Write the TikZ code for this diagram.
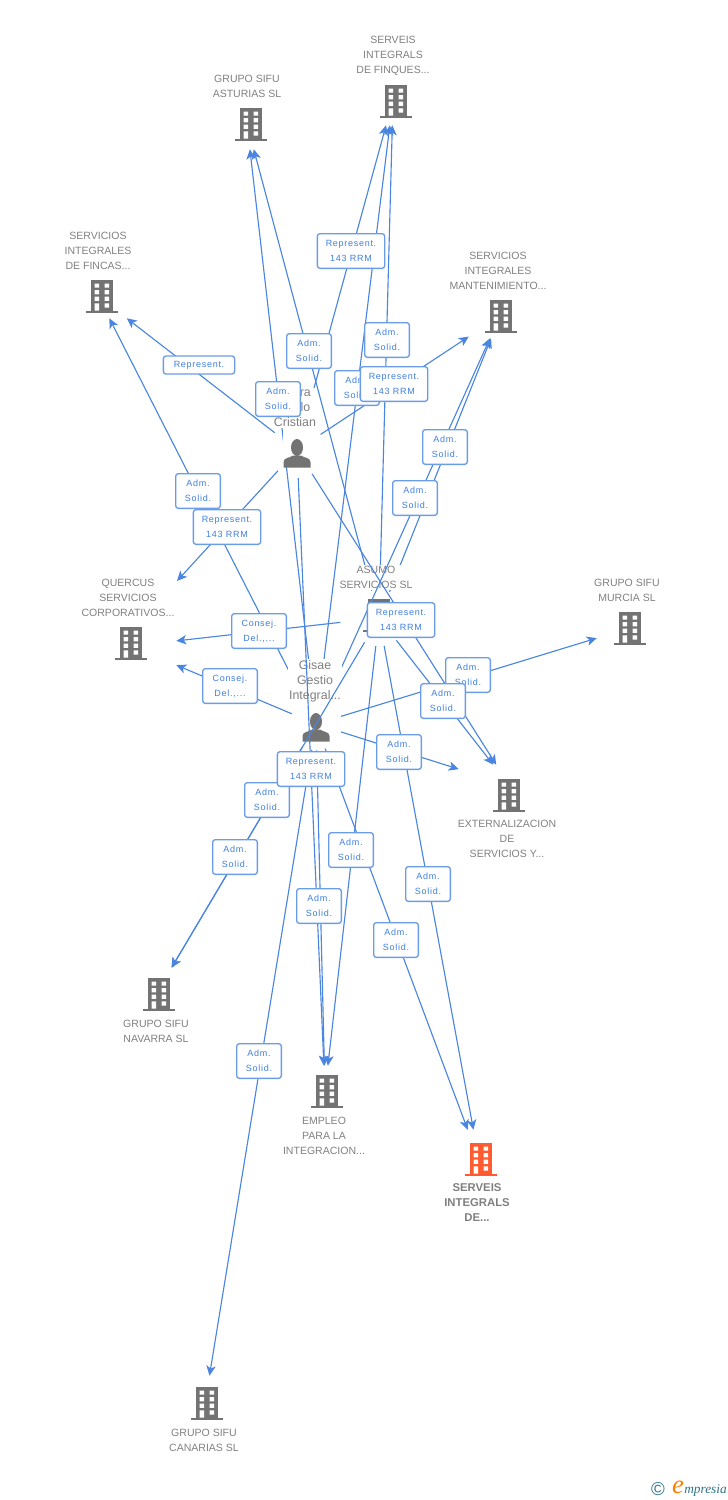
\documentclass[tikz,border=0pt]{standalone}
\usepackage{fontspec}
\usetikzlibrary{arrows.meta}
\setmainfont{Liberation Sans}
\newfontfamily\cajafont[LetterSpace=8]{Liberation Sans}
\newfontfamily\logofont{Liberation Serif}
\definecolor{enlace}{HTML}{4A86E0}
\definecolor{borde}{HTML}{6A9CE8}
\definecolor{rotulo}{HTML}{3F7FE0}
\definecolor{gris}{HTML}{737373}
\definecolor{texto}{HTML}{808080}
\definecolor{naranja}{HTML}{FF5A30}
\definecolor{verdoso}{HTML}{2F7488}
\tikzset{
    hub/.style 2 args={minimum width=#1*0.75pt,minimum height=#2*0.75pt,inner sep=0pt},
    hubper/.style={circle,minimum size=#1*1.5pt,inner sep=0pt},
    enlace/.style={draw=enlace,line width=0.85pt,-{Stealth[length=7.5pt,width=7pt,inset=2pt]}},
    caja/.style={draw=borde,fill=white,line width=1pt,rounded corners=2pt,align=center,inner sep=0pt,
        text=rotulo,font=\cajafont\fontsize{6.75pt}{11.25pt}\selectfont},
    cajaadm/.style={caja,minimum width=33.5pt,minimum height=26pt},
    cajarep/.style={caja,minimum width=50.5pt,minimum height=26pt},
    cajacons/.style={caja,minimum width=41pt,minimum height=26pt},
    cajauna/.style={caja,minimum width=53.5pt,minimum height=13.5pt},
    texto/.style={inner sep=0pt,align=center,text=texto,font=\fontsize{7.9pt}{11.25pt}\selectfont},
    textoper/.style={inner sep=1pt,align=center,fill=white,text=texto,font=\fontsize{9.3pt}{11.25pt}\selectfont},
    pics/edificio/.style={code={
        \fill[#1] (-11,-16.5) rectangle (11,16.5);
        \fill[#1] (-16,14.5) rectangle (16,16.5);
        \fill[white] (-7.5,-12.5) rectangle (-2.8,-8.3) (2.5,-12.5) rectangle (7.2,-8.3);
        \fill[white] (-7.5,-5.8) rectangle (-2.8,-1.6) (2.5,-5.8) rectangle (7.2,-1.6);
        \fill[white] (-7.5,0.6) rectangle (-2.8,4.8) (2.5,0.6) rectangle (7.2,4.8);
        \fill[white] (-7.5,7.3) rectangle (-2.8,14.5) (2.5,7.3) rectangle (7.2,11.5);
    }},
    pics/edificio/.default=gris,
    persona/.pic={
        \fill[white] (-14,-28) rectangle (14,8);
        \fill[gris] (0,-6.5) ellipse (6 and 8.5);
        \fill[gris] (-13.5,13.5) -- (-13.5,8) .. controls (-13.5,3.5) and (-7,4) .. (-4,1.5) -- (4,1.5) .. controls (7,4) and (13.5,3.5) .. (13.5,8) -- (13.5,13.5) -- cycle;
    }
}
\begin{document}
\begin{tikzpicture}[x=0.75pt,y=-0.75pt]
    \useasboundingbox (0,0) rectangle (728,1500);

    \node (finques) [hub={60}{50}] at (393,100) {};
    \node (asturias) [hub={60}{50}] at (247,124) {};
    \node (fincas) [hub={60}{44}] at (98,296) {};
    \node (mant) [hub={62}{44}] at (500,316) {};
    \node (quercus) [hub={90}{60}] at (131,646) {};
    \node (murcia) [hub={66}{60}] at (630,628) {};
    \node (ext) [hub={100}{40}] at (509,785) {};
    \node (navarra) [hub={60}{52}] at (156,994) {};
    \node (empleo) [hub={60}{50}] at (325,1091) {};
    \node (serveis) [hub={60}{60}] at (479,1160) {};
    \node (canarias) [hub={60}{54}] at (205,1403) {};
    \node (asumo) [hubper=28] at (379,618) {};
    \node (cristian) [hubper=28] at (297,450) {};
    \node (gisae) [hubper=26] at (316,724) {};
    \coordinate (quercustop) at (177,581);

    \pic at (396,101) {edificio};
    \pic at (251,124) {edificio};
    \pic at (102,296) {edificio};
    \pic at (501,316) {edificio};
    \pic at (131,643) {edificio};
    \pic at (379,615) {edificio};
    \pic at (630,628) {edificio};
    \pic at (509,795) {edificio};
    \pic at (159,994) {edificio};
    \pic at (327,1091) {edificio};
    \pic at (481,1159) {edificio=naranja};
    \pic at (207,1403) {edificio};

    \node (finqueslbl) [texto] at (393,56) {SERVEIS\\INTEGRALS\\DE FINQUES...};
    \node (asturiaslbl) [texto] at (247,86.5) {GRUPO SIFU\\ASTURIAS SL};
    \node (fincaslbl) [texto] at (98,251) {SERVICIOS\\INTEGRALES\\DE FINCAS...};
    \node (mantlbl) [texto] at (498,271) {SERVICIOS\\INTEGRALES\\MANTENIMIENTO...};
    \node (quercuslbl) [texto] at (128,598) {QUERCUS\\SERVICIOS\\CORPORATIVOS...};
    \node (murcialbl) [texto] at (627,590.5) {GRUPO SIFU\\MURCIA SL};
    \node (extlbl) [texto] at (507,839) {EXTERNALIZACION\\DE\\SERVICIOS Y...};
    \node (navarralbl) [texto] at (156,1031.5) {GRUPO SIFU\\NAVARRA SL};
    \node (empleolbl) [texto] at (324,1136) {EMPLEO\\PARA LA\\INTEGRACION...};
    \node (serveislbl) [texto,font=\bfseries\fontsize{8.5pt}{11.25pt}\selectfont] at (477,1202.5) {SERVEIS\\INTEGRALS\\DE...};
    \node (canariaslbl) [texto] at (204,1440.5) {GRUPO SIFU\\CANARIAS SL};

    \draw[enlace] (asumo) -- (finques);
    \draw[enlace] (asumo) -- (asturias);
    \draw[enlace] (asumo) -- (mant);
    \draw[enlace,shorten <=8pt] (asumo) -- (quercus);
    \draw[enlace] (asumo) -- (ext);
    \draw[enlace] (asumo) -- (serveis);
    \node (asumolbl) [texto,fill=white,inner sep=1pt] at (376,577.5) {ASUMO\\SERVICIOS SL};

    \draw[enlace] (cristian) -- (fincas);
    \draw[enlace] (cristian) -- (quercustop);
    \draw[enlace] (cristian) -- (mant);
    \draw[enlace] (cristian) -- (finques);
    \draw[enlace] (cristian) -- (ext);
    \draw[enlace] (gisae) -- (asturias);
    \draw[enlace] (gisae) -- (finques);
    \draw[enlace] (gisae) -- (fincas);
    \draw[enlace] (gisae) -- (mant);
    \draw[enlace] (gisae) -- (quercus);
    \draw[enlace] (gisae) -- (murcia);
    \draw[enlace] (gisae) -- (ext);
    \draw[enlace] (gisae) -- (navarra);
    \draw[enlace] (gisae) -- (empleo);
    \draw[enlace] (gisae) -- (serveis);
    \draw[enlace] (gisae) -- (canarias);

    \pic at (297,454) {persona};
    \pic at (316,728) {persona};
    \node (cristianlbl) [textoper] at (295,408) {\hphantom{nnn}ra\\\hphantom{nnn}lo\\Cristian};
    \node (gisaelbl) [textoper] at (315,681) {Gisae\\Gestio\\Integral...};

    \draw[enlace] (asumo) -- (navarra);
    \draw[enlace] (asumo) -- (empleo);
    \draw[enlace] (cristian) -- (empleo);

    \node (c01) [cajauna] at (199,365) {Represent.};
    \node (c02) [cajaadm] at (198,491) {Adm.\\Solid.};
    \node (c03) [cajarep] at (227,527) {Represent.\\143 RRM};
    \node (c04) [cajacons] at (259,631) {Consej.\\Del.,...};
    \node (c05) [cajacons] at (230,686) {Consej.\\Del.,...};
    \node (c06) [cajarep] at (351,251) {Represent.\\143 RRM};
    \node (c07) [cajaadm] at (309,351) {Adm.\\Solid.};
    \node (c08) [cajaadm] at (357,388) {Adm.\\Solid.};
    \node (c09) [cajaadm] at (278,399) {Adm.\\Solid.};
    \node (c10) [cajaadm] at (387,340) {Adm.\\Solid.};
    \node (c11) [cajarep] at (394,384) {Represent.\\143 RRM};
    \node (c12) [cajaadm] at (445,447) {Adm.\\Solid.};
    \node (c13) [cajaadm] at (415,498) {Adm.\\Solid.};
    \node (c14) [cajarep] at (401,620) {Represent.\\143 RRM};
    \node (c15) [cajaadm] at (468,675) {Adm.\\Solid.};
    \node (c16) [cajaadm] at (443,701) {Adm.\\Solid.};
    \node (c17) [cajaadm] at (399,752) {Adm.\\Solid.};
    \node (c18) [cajaadm] at (267,800) {Adm.\\Solid.};
    \node (c19) [cajarep] at (311,769) {Represent.\\143 RRM};
    \node (c20) [cajaadm] at (235,857) {Adm.\\Solid.};
    \node (c21) [cajaadm] at (351,850) {Adm.\\Solid.};
    \node (c22) [cajaadm] at (428,884) {Adm.\\Solid.};
    \node (c23) [cajaadm] at (396,940) {Adm.\\Solid.};
    \node (c24) [cajaadm] at (319,906) {Adm.\\Solid.};
    \node (c25) [cajaadm] at (259,1061) {Adm.\\Solid.};

    \node (logoc) [inner sep=0pt,text=verdoso,font=\fontsize{14pt}{14pt}\selectfont] at (658,1489) {\textcopyright};
    \node (logoe) [inner sep=0pt,text=orange,font=\logofont\itshape\fontsize{20pt}{20pt}\selectfont] at (678,1487) {e};
    \node (logot) [inner sep=0pt,anchor=west,text=verdoso,font=\logofont\itshape\fontsize{10pt}{10pt}\selectfont] at (684,1490) {mpresia};
\end{tikzpicture}
\end{document}
